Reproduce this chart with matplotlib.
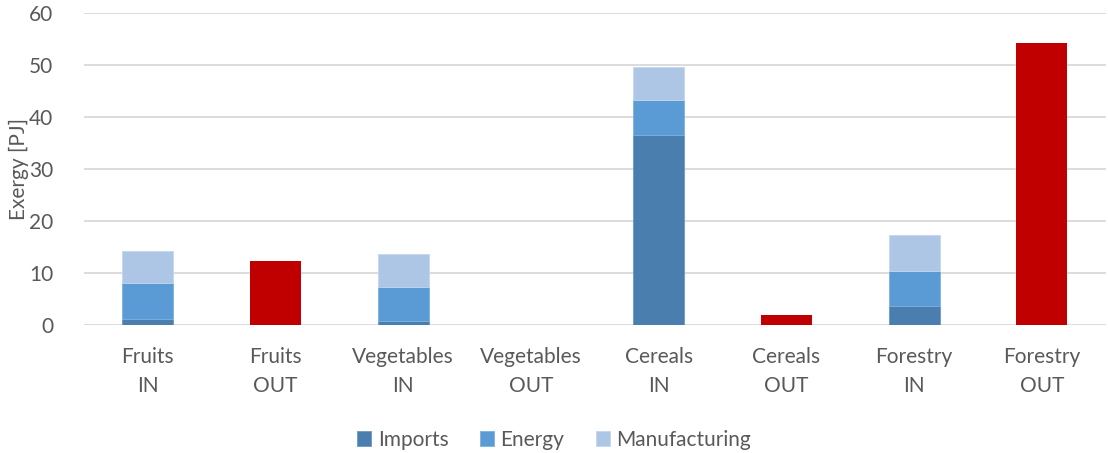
import matplotlib.pyplot as plt
import numpy as np

categories = ["Fruits\nIN", "Fruits\nOUT", "Vegetables\nIN", "Vegetables\nOUT",
              "Cereals\nIN", "Cereals\nOUT", "Forestry\nIN", "Forestry\nOUT"]
imports = [1.1, 0, 0.7, 0, 36.5, 0, 3.7, 0]
energy = [6.9, 0, 6.6, 0, 6.8, 0, 6.75, 0]
manufacturing = [6.2, 0, 6.3, 0, 6.3, 0, 6.85, 0]
outputs = [0, 12.3, 0, 0, 0, 1.9, 0, 54.2]

plt.rcParams["font.family"] = ["Lato", "DejaVu Sans"]
text_color = "#595959"
fs = 15

fig = plt.figure(figsize=(11.08, 4.53), dpi=100)
ax = fig.add_axes([84 / 1108, 1 - 325 / 453, 1 - 84 / 1108 - 0.002, (325 - 13) / 453])

x = np.arange(len(categories))
w = 0.4
imp = np.array(imports)
en = np.array(energy)
man = np.array(manufacturing)

ax.bar(x, imp, w, color="#4A7EAE", edgecolor="#6E98C2", linewidth=0.6, label="Imports", zorder=3)
ax.bar(x, en, w, bottom=imp, color="#5B9BD5", edgecolor="#7DB0E0", linewidth=0.6, label="Energy", zorder=3)
ax.bar(x, man, w, bottom=imp + en, color="#ADC6E5", edgecolor="#C4D6EE", linewidth=0.6,
       label="Manufacturing", zorder=3)
ax.bar(x, outputs, w, color="#C00000", zorder=3)

ax.set_xlim(-0.5, len(categories) - 0.5)
ax.set_ylim(0, 60)
ax.set_yticks(range(0, 61, 10))
ax.set_xticks(x)
ax.set_xticklabels(categories, linespacing=1.55)
ax.yaxis.grid(True, color="#D9D9D9", linewidth=1.3, zorder=0)
ax.set_axisbelow(True)
for s in ax.spines.values():
    s.set_visible(False)
ax.tick_params(length=0, labelsize=fs, colors=text_color, pad=16)
ax.tick_params(axis="y", pad=22)
ax.set_ylabel("Exergy [PJ]", fontsize=fs, color=text_color, labelpad=0)

ax.legend(loc="upper center", bbox_to_anchor=(0.46, -0.275), ncol=3, frameon=False,
          fontsize=fs, labelcolor=text_color, handlelength=0.7, handleheight=0.7,
          handletextpad=0.3, columnspacing=1.5)

fig.savefig("out.png", dpi=100)
